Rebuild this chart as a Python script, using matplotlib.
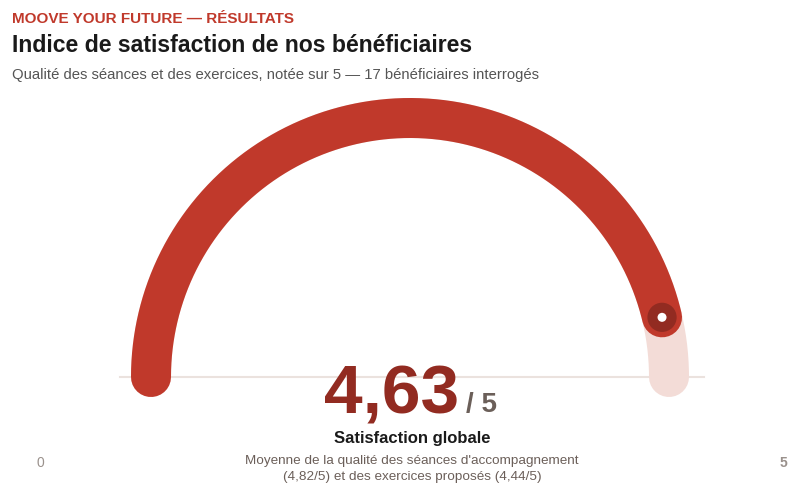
import numpy as np
import matplotlib.pyplot as plt
from matplotlib.patches import Circle

plt.rcParams['font.family'] = ['Liberation Sans', 'DejaVu Sans']

# Données
score = 4.63
score_max = 5
note_seances = 4.82
note_exercices = 4.44
nb_beneficiaires = 17

# Couleurs
rouge = '#c0392b'
rouge_fonce = '#922b21'
piste = '#f3dcd7'

fig = plt.figure(figsize=(8, 4.96), dpi=100)
ax = fig.add_axes([0, 0, 1, 1])
ax.set_xlim(0, 800)
ax.set_ylim(496, 0)
ax.axis('off')

# Géométrie de la jauge (en pixels)
cx, cy, r = 410, 377, 259
lw = 40 * 72 / 100


def angle(v):
    return np.pi * (1 - v / score_max)


# ligne de base
ax.plot([120, 704], [cy, cy], color='#ebe2de', lw=1.5, zorder=1)

# piste complète
t = np.linspace(angle(0), angle(score_max), 300)
ax.plot(cx + r * np.cos(t), cy - r * np.sin(t), color=piste, lw=lw,
        solid_capstyle='round', zorder=2)

# valeur
t = np.linspace(angle(0), angle(score), 300)
ax.plot(cx + r * np.cos(t), cy - r * np.sin(t), color=rouge, lw=lw,
        solid_capstyle='round', zorder=3)

# curseur
mx = cx + r * np.cos(angle(score))
my = cy - r * np.sin(angle(score))
ax.add_patch(Circle((mx, my), 16, facecolor=rouge_fonce, edgecolor=rouge, lw=2, zorder=4))
ax.add_patch(Circle((mx, my), 4.5, facecolor='white', edgecolor='none', zorder=5))

# Titres
fig.text(12 / 800, 1 - 19 / 496, 'MOOVE YOUR FUTURE — RÉSULTATS', color=rouge,
         fontsize=11, fontweight='bold', va='center', ha='left')
fig.text(12 / 800, 1 - 46 / 496, 'Indice de satisfaction de nos bénéficiaires', color='#1a1a1a',
         fontsize=16.6, fontweight='bold', va='center', ha='left')
fig.text(12 / 800, 1 - 75 / 496,
         f'Qualité des séances et des exercices, notée sur {score_max} — {nb_beneficiaires} bénéficiaires interrogés',
         color='#555555', fontsize=10.75, va='center', ha='left')

# Valeur centrale
val_txt = f'{score:.2f}'.replace('.', ',')
ax.text(459, 413, val_txt, color=rouge_fonce, fontsize=50, fontweight='bold',
        ha='right', va='baseline')
ax.text(466, 412, f'/ {score_max}', color='#6b5f59', fontsize=20, fontweight='bold',
        ha='left', va='baseline')
ax.text(412, 438, 'Satisfaction globale', color='#1a1a1a', fontsize=12, fontweight='bold',
        ha='center', va='center')
s1 = f'{note_seances:.2f}'.replace('.', ',')
s2 = f'{note_exercices:.2f}'.replace('.', ',')
ax.text(412, 461, "Moyenne de la qualité des séances d'accompagnement",
        color='#6b5f59', fontsize=9.7, ha='center', va='center')
ax.text(412, 477, f"({s1}/{score_max}) et des exercices proposés ({s2}/{score_max})",
        color='#6b5f59', fontsize=9.7, ha='center', va='center')

# bornes
ax.text(40, 463, '0', color='#9a918c', fontsize=10, ha='center', va='center')
ax.text(783, 463, f'{score_max}', color='#9a918c', fontsize=10, fontweight='bold',
        ha='center', va='center')

fig.savefig('out.png', dpi=100)
